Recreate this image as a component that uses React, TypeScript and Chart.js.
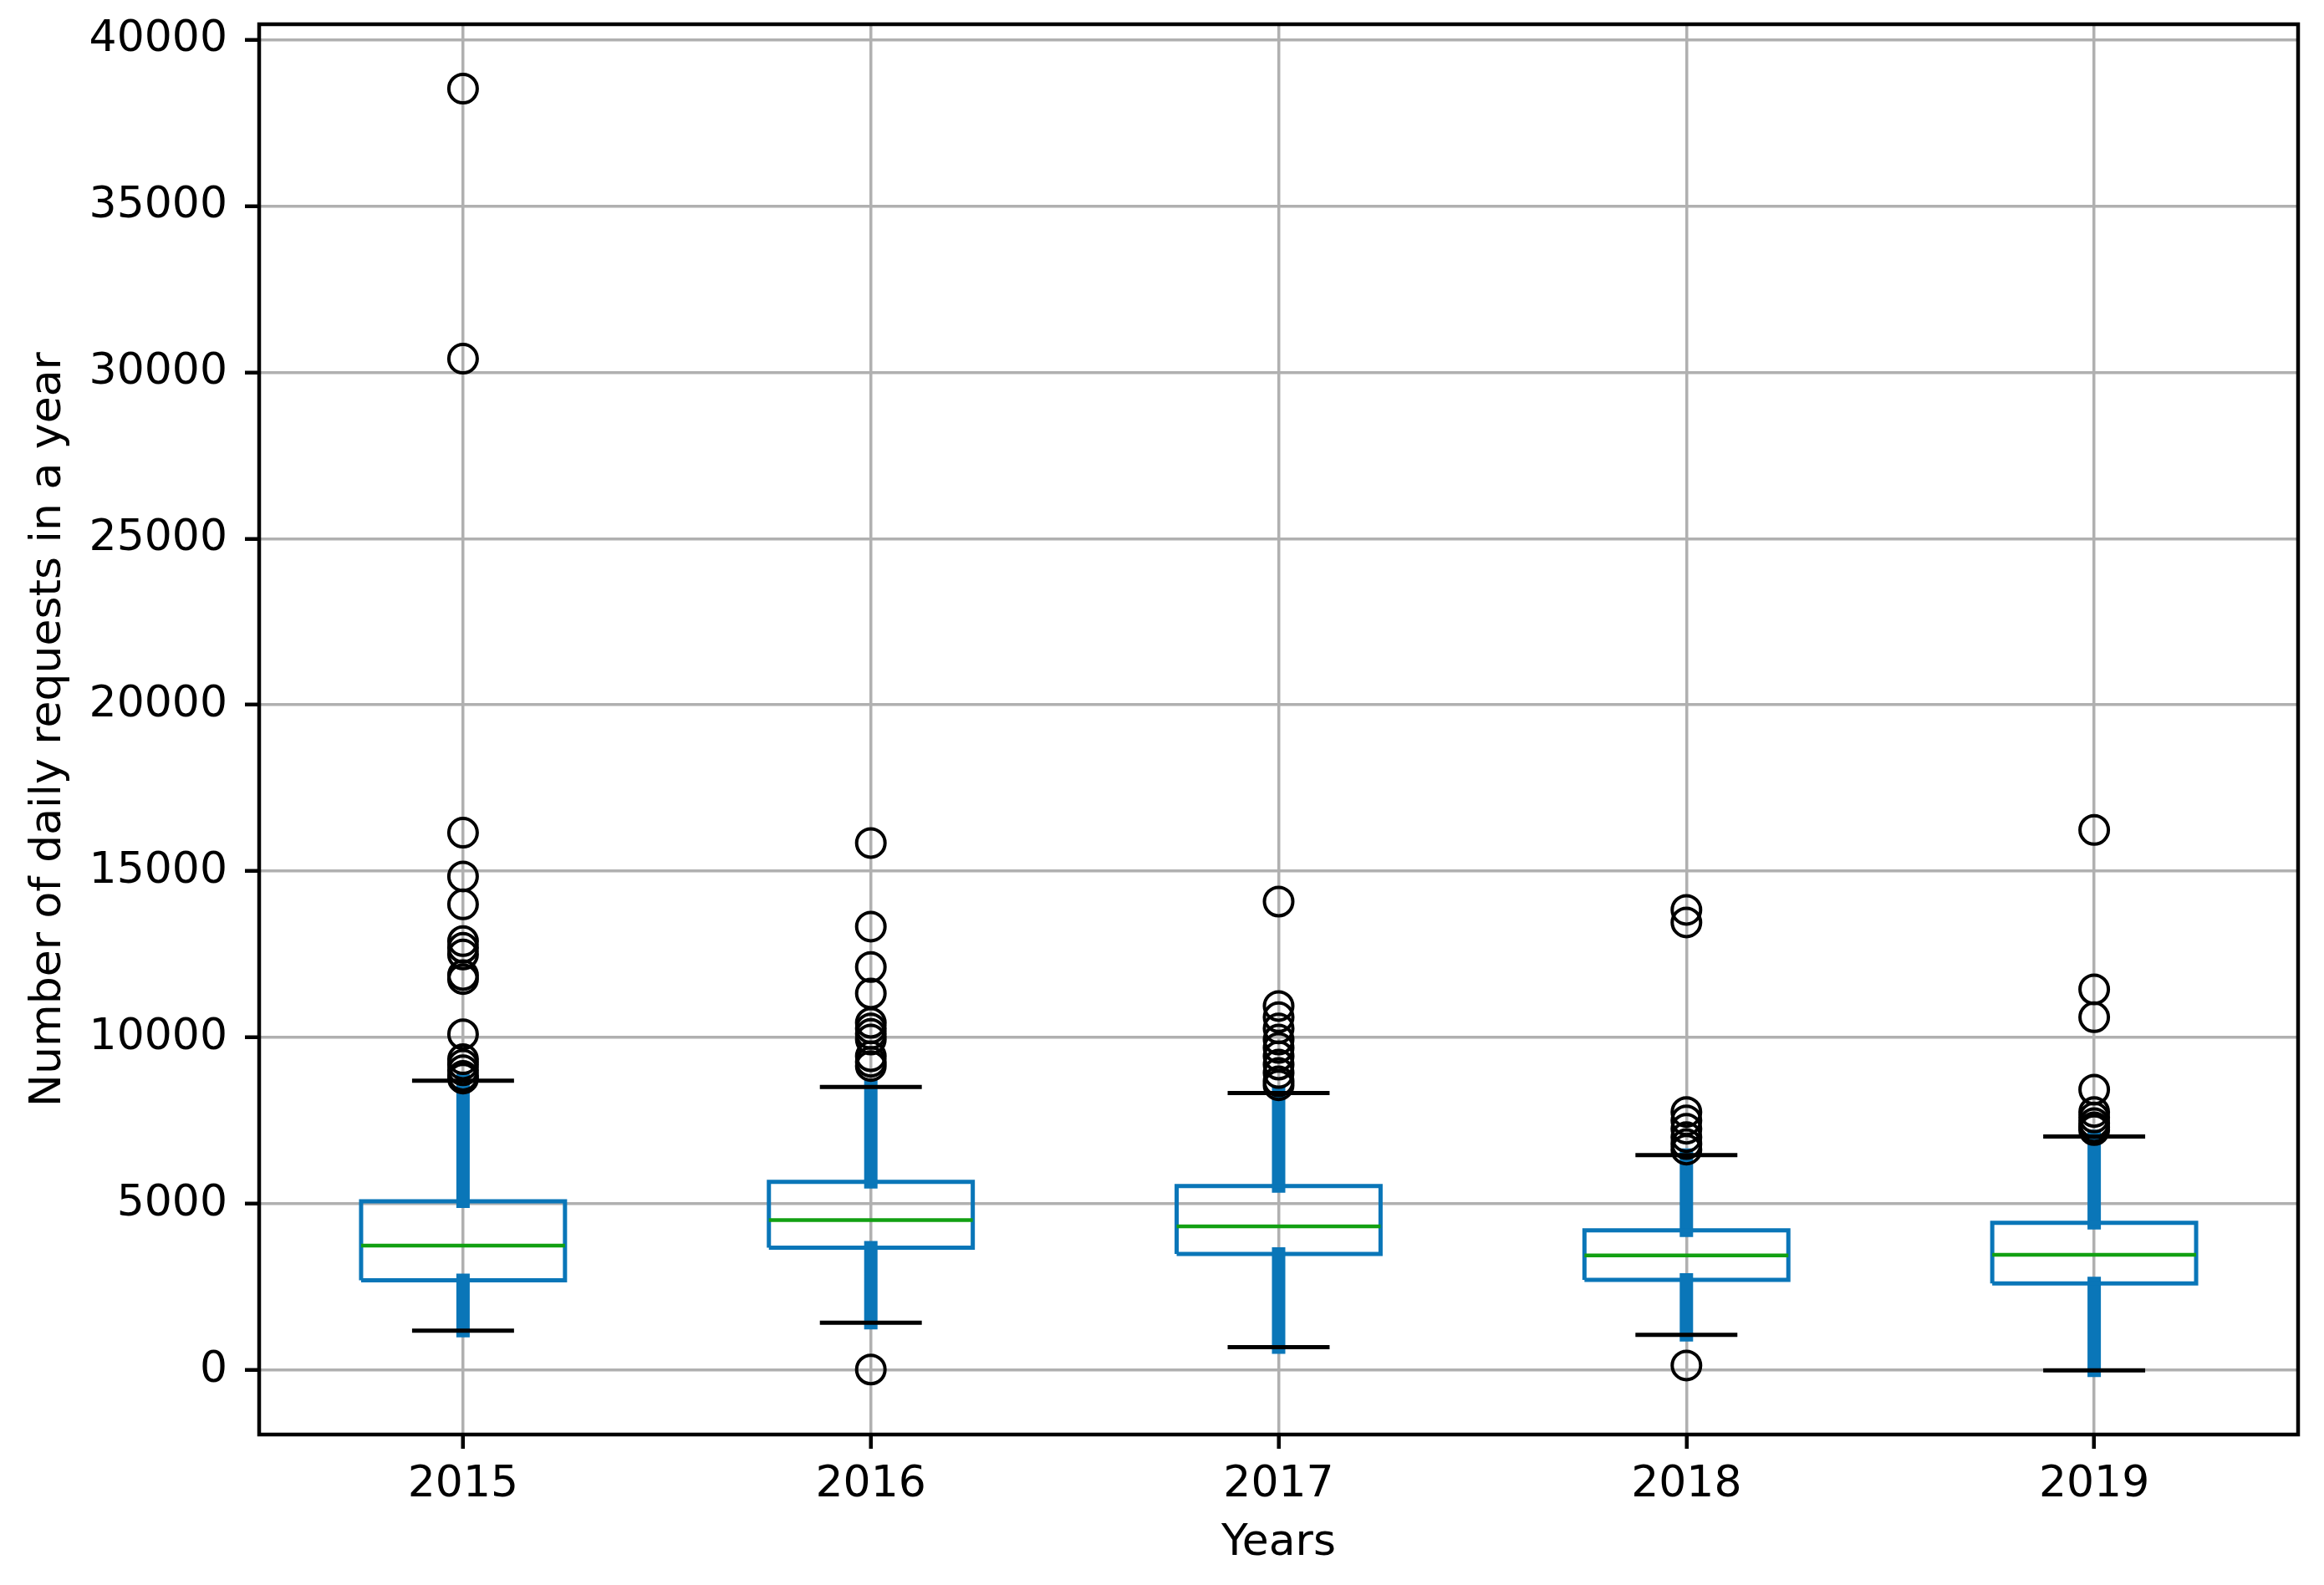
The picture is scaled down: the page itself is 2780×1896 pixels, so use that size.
import React, { useEffect, useRef } from 'react';
import { Chart, registerables } from 'chart.js';

Chart.register(...registerables);

// ---- data ----
const years = ['2015', '2016', '2017', '2018', '2019'];
const q1Values = [2704, 3684, 3500, 2719, 2613];
const medianValues = [3747, 4513, 4327, 3455, 3470];
const q3Values = [5079, 5662, 5539, 4207, 4436];
const whiskerLowValues = [1189, 1432, 696, 1066, 0];
const whiskerHighValues = [8703, 8519, 8335, 6466, 7029];
const outliers2015 = [38524, 30407, 16160, 14845, 14005, 12900, 12700, 12500, 11880, 11760, 10100, 9350, 9190, 9020, 8850, 8770];
const outliers2016 = [15850, 13337, 12122, 11326, 10446, 10278, 10110, 9943, 9440, 9273, 9147, 25];
const outliers2017 = [14090, 10950, 10613, 10278, 9943, 9692, 9440, 9189, 8937, 8686, 8570];
const outliers2018 = [13840, 13463, 7765, 7514, 7262, 7011, 6802, 6634, 146];
const outliers2019 = [16242, 11451, 10613, 8436, 7765, 7597, 7430, 7305, 7220];
const outliersByYear = [outliers2015, outliers2016, outliers2017, outliers2018, outliers2019];
const yTickValues = [0, 5000, 10000, 15000, 20000, 25000, 30000, 35000, 40000];
const yAxisMin = -1930;
const yAxisMax = 40460;

// ---- styles ----
const W = 2780;
const H = 1896;
const AREA = { left: 310, top: 29, right: 2749, bottom: 1716 };
const BOX_HALF = 0.25;
const CAP_HALF = 0.125;
const BLUE = '#0a76b8';
const GREEN = '#12a012';
const GRID = '#b0b0b0';
const FONT = { family: '"DejaVu Sans", sans-serif', size: 52 };

type P = { x: number; y: number | null };

function gap(x: number): P {
  return { x, y: null };
}

function boxPoints(): P[] {
  const pts: P[] = [];
  years.forEach((_, i) => {
    const c = i + 1;
    pts.push(
      { x: c - BOX_HALF, y: q1Values[i] },
      { x: c + BOX_HALF, y: q1Values[i] },
      { x: c + BOX_HALF, y: q3Values[i] },
      { x: c - BOX_HALF, y: q3Values[i] },
      { x: c - BOX_HALF, y: q1Values[i] },
      gap(c)
    );
  });
  return pts;
}

function medianPoints(): P[] {
  const pts: P[] = [];
  years.forEach((_, i) => {
    const c = i + 1;
    pts.push({ x: c - BOX_HALF, y: medianValues[i] }, { x: c + BOX_HALF, y: medianValues[i] }, gap(c));
  });
  return pts;
}

function whiskerPoints(): P[] {
  const pts: P[] = [];
  years.forEach((_, i) => {
    const c = i + 1;
    pts.push({ x: c, y: q1Values[i] }, { x: c, y: whiskerLowValues[i] }, gap(c));
    pts.push({ x: c, y: q3Values[i] }, { x: c, y: whiskerHighValues[i] }, gap(c));
  });
  return pts;
}

function capPoints(): P[] {
  const pts: P[] = [];
  years.forEach((_, i) => {
    const c = i + 1;
    pts.push({ x: c - CAP_HALF, y: whiskerLowValues[i] }, { x: c + CAP_HALF, y: whiskerLowValues[i] }, gap(c));
    pts.push({ x: c - CAP_HALF, y: whiskerHighValues[i] }, { x: c + CAP_HALF, y: whiskerHighValues[i] }, gap(c));
  });
  return pts;
}

function outlierPoints(): P[] {
  const pts: P[] = [];
  outliersByYear.forEach((list, i) => {
    list.forEach((v) => pts.push({ x: i + 1, y: v }));
  });
  return pts;
}

const framePlugin = {
  id: 'frame',
  afterDatasetsDraw(chart: any) {
    const { ctx, chartArea } = chart;
    const { left, top, right, bottom } = chartArea;
    ctx.save();
    ctx.strokeStyle = '#000';
    ctx.lineWidth = 4.5;
    ctx.strokeRect(left, top, right - left, bottom - top);
    ctx.restore();
  },
};

export default function App() {
  const canvasRef = useRef<HTMLCanvasElement | null>(null);

  useEffect(() => {
    document.body.style.margin = '0';
    const canvas = canvasRef.current;
    if (!canvas) return;
    const lineBase = {
      showLine: true,
      pointRadius: 0,
      pointHoverRadius: 0,
      spanGaps: false,
      fill: false,
      tension: 0,
    };
    const chart = new Chart(canvas, {
      type: 'scatter',
      data: {
        datasets: [
          {
            ...lineBase,
            label: 'whiskers',
            data: whiskerPoints(),
            borderColor: BLUE,
            borderWidth: 16,
            borderCapStyle: 'square',
            order: 5,
          } as any,
          {
            ...lineBase,
            label: 'caps',
            data: capPoints(),
            borderColor: '#000',
            borderWidth: 5,
            borderCapStyle: 'butt',
            order: 4,
          } as any,
          {
            ...lineBase,
            label: 'boxes',
            data: boxPoints(),
            borderColor: BLUE,
            borderWidth: 5,
            borderJoinStyle: 'miter',
            borderCapStyle: 'butt',
            order: 3,
          } as any,
          {
            ...lineBase,
            label: 'medians',
            data: medianPoints(),
            borderColor: GREEN,
            borderWidth: 4.5,
            borderCapStyle: 'butt',
            order: 2,
          } as any,
          {
            label: 'fliers',
            data: outlierPoints(),
            showLine: false,
            pointStyle: 'circle',
            pointRadius: 17,
            pointHoverRadius: 17,
            pointBorderWidth: 4,
            pointBorderColor: '#000',
            pointBackgroundColor: 'rgba(0,0,0,0)',
            order: 1,
          } as any,
        ],
      },
      options: {
        animation: false,
        responsive: false,
        maintainAspectRatio: false,
        devicePixelRatio: 1,
        events: [],
        layout: { padding: { left: 0, top: AREA.top, right: W - AREA.right, bottom: 0 } },
        plugins: {
          legend: { display: false },
          tooltip: { enabled: false },
          title: { display: false },
        },
        scales: {
          x: {
            type: 'linear',
            min: 0.5,
            max: 5.5,
            afterBuildTicks: (scale: any) => {
              scale.ticks = years.map((_, i) => ({ value: i + 1 }));
            },
            afterFit: (scale: any) => {
              scale.height = H - AREA.bottom;
              scale.paddingLeft = 0;
              scale.paddingRight = 0;
            },
            ticks: {
              callback: (_v: any, index: number) => years[index] ?? '',
              font: FONT,
              color: '#000',
              padding: 12,
              maxRotation: 0,
              minRotation: 0,
              autoSkip: false,
            },
            grid: {
              color: GRID,
              lineWidth: 3.5,
              tickLength: 17,
              tickWidth: 4.5,
              tickColor: '#000',
            },
            border: { display: false },
            title: {
              display: true,
              text: 'Years',
              font: FONT,
              color: '#000',
              padding: { top: 0, bottom: 18 },
            },
          },
          y: {
            type: 'linear',
            min: yAxisMin,
            max: yAxisMax,
            afterBuildTicks: (scale: any) => {
              scale.ticks = yTickValues.map((v) => ({ value: v }));
            },
            afterFit: (scale: any) => {
              scale.width = AREA.left;
              scale.paddingTop = 0;
              scale.paddingBottom = 0;
            },
            ticks: {
              callback: (v: any) => String(v),
              font: FONT,
              color: '#000',
              padding: 21,
              autoSkip: false,
            },
            grid: {
              color: GRID,
              lineWidth: 3.5,
              tickLength: 17,
              tickWidth: 4.5,
              tickColor: '#000',
            },
            border: { display: false },
            title: {
              display: true,
              text: 'Number of daily requests in a year',
              font: FONT,
              color: '#000',
              padding: { top: 27, bottom: 0 },
            },
          },
        },
      } as any,
      plugins: [framePlugin],
    });
    return () => chart.destroy();
  }, []);

  return (
    <div style={{ position: 'absolute', left: 0, top: 0, width: W, height: H, background: '#fff' }}>
      <canvas ref={canvasRef} width={W} height={H} style={{ width: W, height: H, display: 'block' }} />
    </div>
  );
}
